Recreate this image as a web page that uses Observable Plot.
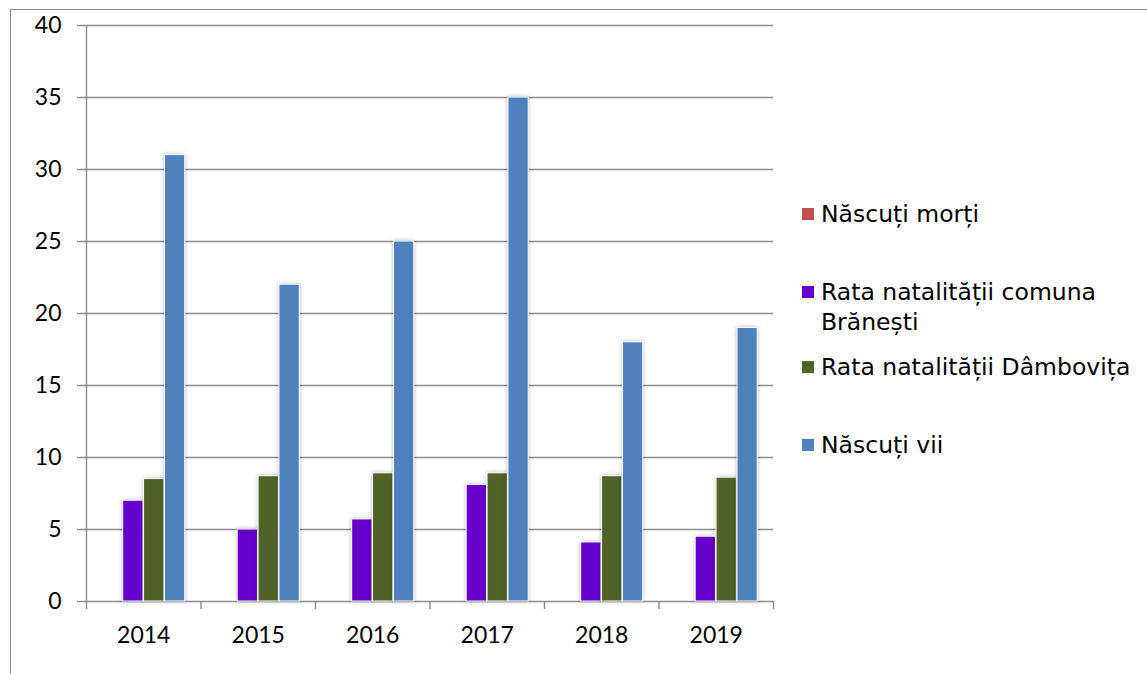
<!DOCTYPE html>
<html><head><meta charset="utf-8">
<script src="https://cdn.jsdelivr.net/npm/d3@7"></script>
<script src="https://cdn.jsdelivr.net/npm/@observablehq/plot@0.6"></script>
<style>
body{margin:0;background:#fff;}
#wrap{position:relative;width:1147px;height:674px;overflow:hidden;}
#chart{position:absolute;left:0;top:0;}
#frame{position:absolute;left:10px;top:9px;width:1200px;height:700px;border-top:1px solid #868686;border-left:1px solid #868686;}
#legend{position:absolute;left:802px;top:0;font-family:"DejaVu Sans",sans-serif;font-size:23.5px;line-height:30px;color:#000;}
.item{position:absolute;left:0;}
.sw{position:absolute;left:0;top:9px;width:12px;height:12px;}
.lab{position:absolute;left:19px;top:0;width:326px;}
#chart rect.bar{filter:drop-shadow(0 0 2px rgba(0,0,0,0.25));}
</style>
</head><body>
<div id="wrap"><div id="frame"></div><div id="chart"></div><div id="legend"></div></div>
<script>
const years = ["2014","2015","2016","2017","2018","2019"];
const seriesNames = ["Născuți morți","Rata natalității comuna Brănești","Rata natalității Dâmbovița","Născuți vii"];
const nascutiMorti = [0,0,0,0,0,0];
const rataBranesti = [7.0,5.0,5.7,8.1,4.1,4.5];
const rataDambovita = [8.5,8.7,8.9,8.9,8.7,8.6];
const nascutiVii = [31,22,25,35,18,19];
const seriesColors = ["#C0504D","#6600CC","#4F6228","#4F81BD"];
const yTicks = [0,5,10,15,20,25,30,35,40];

const seriesValues = [nascutiMorti, rataBranesti, rataDambovita, nascutiVii];
const STEP = 0.1825, BW = 0.177, PAD = (1 - (4*STEP - (STEP-BW)))/2;
const data = [];
years.forEach((yr, i) => seriesValues.forEach((vals, k) => {
  data.push({i, year: yr, k, series: seriesNames[k], value: vals[i]});
}));

const gridColor = "#8c8c8c";
const FONT = "Lato, sans-serif";
const plot = Plot.plot({
  width: 1147, height: 674,
  marginLeft: 86, marginRight: 374, marginTop: 25, marginBottom: 73,
  style: {fontFamily: FONT, fontSize: "23px", background: "transparent"},
  x: {domain: [0, years.length], axis: null},
  y: {domain: [0, 40], axis: null},
  color: {domain: seriesNames, range: seriesColors},
  marks: [
    Plot.ruleY(yTicks, {x1: 0, x2: years.length, stroke: gridColor, strokeWidth: 1.4}),
    Plot.axisY({ticks: yTicks, label: null, tickSize: 9, tickPadding: 16, stroke: gridColor, strokeWidth: 1.4, fill: "#000", fontSize: 23, fontFamily: FONT}),
    Plot.ruleX([0], {y1: 0, y2: 40, stroke: gridColor, strokeWidth: 1.4}),
    Plot.axisX({ticks: d3.range(0, years.length + 1), label: null, tickSize: 8, tickFormat: () => "", stroke: gridColor, strokeWidth: 1.4}),
    Plot.rect(data.filter(d => d.value > 0), {
      x1: d => d.i + PAD + d.k*STEP,
      x2: d => d.i + PAD + d.k*STEP + BW,
      y1: 0, y2: "value", fill: "series", stroke: "white", strokeWidth: 1
    }),
    Plot.text(years, {x: (d, i) => i + 0.5, frameAnchor: "bottom", dy: 41, text: d => d, fontSize: 23, fill: "#000", fontFamily: FONT})
  ]
});
document.getElementById("chart").appendChild(plot);
d3.select(plot).selectAll("g[aria-label='rect'] rect").classed("bar", true);

const legendTops = [199, 277, 352, 430];
const legend = d3.select("#legend");
seriesNames.forEach((name, k) => {
  const it = legend.append("div").attr("class", "item").style("top", legendTops[k] + "px");
  it.append("div").attr("class", "sw").style("background", seriesColors[k]);
  it.append("div").attr("class", "lab").text(name);
});
</script>
</body></html>
